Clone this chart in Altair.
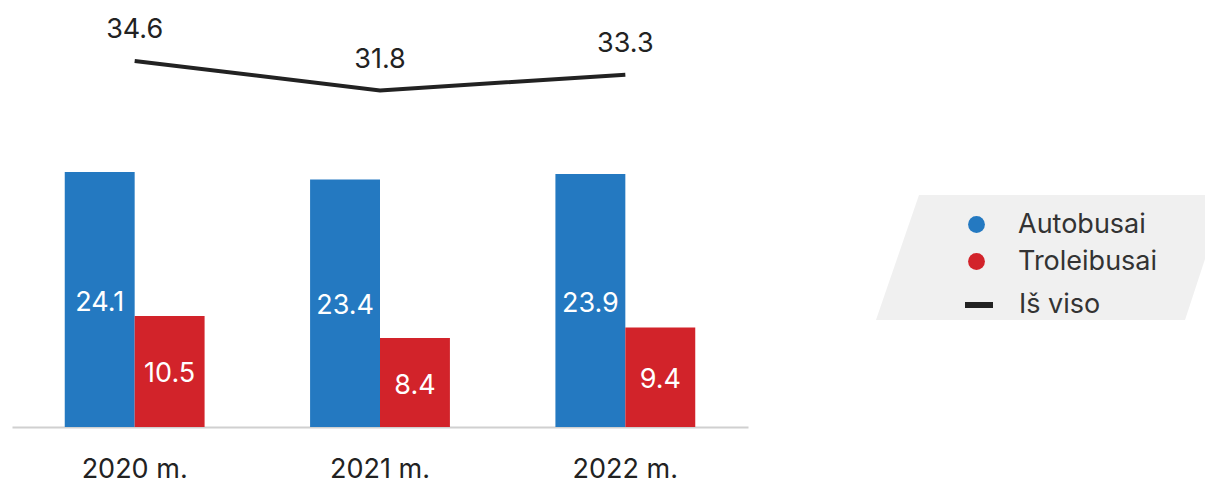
import altair as alt
import pandas as pd

years = ["2020 m.", "2021 m.", "2022 m."]
autobusai = [24.1, 23.4, 23.9]
troleibusai = [10.5, 8.4, 9.4]
is_viso = [34.6, 31.8, 33.3]
bar_series = ["Autobusai", "Troleibusai"]
bar_colors = ["#2479c1", "#d2232a"]
line_series = ["Iš viso"]
line_colors = ["#222222"]

FONT = "Inter"
FS = 27

rows = []
for i, y in enumerate(years):
    rows.append({"year": y, "series": bar_series[0], "value": autobusai[i]})
    rows.append({"year": y, "series": bar_series[1], "value": troleibusai[i]})
bars_df = pd.DataFrame(rows)
line_df = pd.DataFrame({"year": years, "total": is_viso, "series": line_series * len(years)})

x_enc = alt.X(
    "year:N",
    sort=years,
    title=None,
    scale=alt.Scale(paddingInner=0.43, paddingOuter=0.215),
    axis=alt.Axis(
        labelFont=FONT, labelFontSize=FS, labelColor="#222222", labelPadding=29,
        labelAngle=0, ticks=False, grid=False, domainColor="#d0d0d0", domainWidth=2,
    ),
)
y_scale = alt.Scale(domain=[0, 39.6], nice=False, zero=True)
xoff = alt.XOffset("series:N", sort=bar_series, scale=alt.Scale(paddingInner=0, paddingOuter=0))

# decorative legend background (parallelogram)
bg = alt.Chart(alt.Data(values=[{"k": 1}])).mark_point(
    shape="M -0.757 -0.357 L 0.997 -0.357 L 0.763 0.357 L -1.003 0.357 Z",
    filled=True, color="#f0f0f0", opacity=1, size=122500, strokeWidth=0,
).encode(x=alt.value(1039.5), y=alt.value(249.5))

bars = alt.Chart(bars_df).mark_bar().encode(
    x=x_enc,
    xOffset=xoff,
    y=alt.Y("value:Q", scale=y_scale, axis=None),
    color=alt.Color(
        "series:N",
        scale=alt.Scale(domain=bar_series, range=bar_colors),
        legend=alt.Legend(
            title=None, orient="none", legendX=951, legendY=203, padding=0,
            symbolType="circle", symbolSize=283, symbolStrokeWidth=0,
            labelFont=FONT, labelFontSize=FS, labelColor="#333333",
            labelOffset=28, rowPadding=9,
        ),
    ),
)

bar_labels = alt.Chart(bars_df).transform_calculate(
    mid="datum.value / 2"
).mark_text(
    font=FONT, fontSize=FS, color="white", baseline="middle", dy=3
).encode(
    x=x_enc,
    xOffset=xoff,
    y=alt.Y("mid:Q", scale=y_scale, axis=None),
    text=alt.Text("value:Q", format=".1f"),
)

line = alt.Chart(line_df).mark_line(strokeWidth=4).encode(
    x=x_enc,
    y=alt.Y("total:Q", scale=y_scale, axis=None),
    color=alt.Color(
        "series:N",
        scale=alt.Scale(domain=line_series, range=line_colors),
        legend=alt.Legend(
            title=None, orient="none", legendX=950, legendY=280, padding=0,
            symbolType="stroke", symbolSize=784, symbolStrokeWidth=6,
            labelFont=FONT, labelFontSize=FS, labelColor="#333333",
            labelOffset=23,
        ),
    ),
)

line_labels = alt.Chart(line_df).mark_text(
    font=FONT, fontSize=FS, color="#222222", baseline="middle", dy=-31
).encode(
    x=x_enc,
    y=alt.Y("total:Q", scale=y_scale, axis=None),
    text=alt.Text("total:Q", format=".1f"),
)

chart = alt.layer(bg, bars, bar_labels, line, line_labels).resolve_scale(
    color="independent"
).properties(
    width=736,
    height=419,
    autosize=alt.AutoSizeParams(type="none"),
    padding={"left": 4, "top": 0, "right": 457, "bottom": 58},
).configure_view(stroke=None)

chart.save("out.html", embed_options={"renderer": "svg", "actions": False})
